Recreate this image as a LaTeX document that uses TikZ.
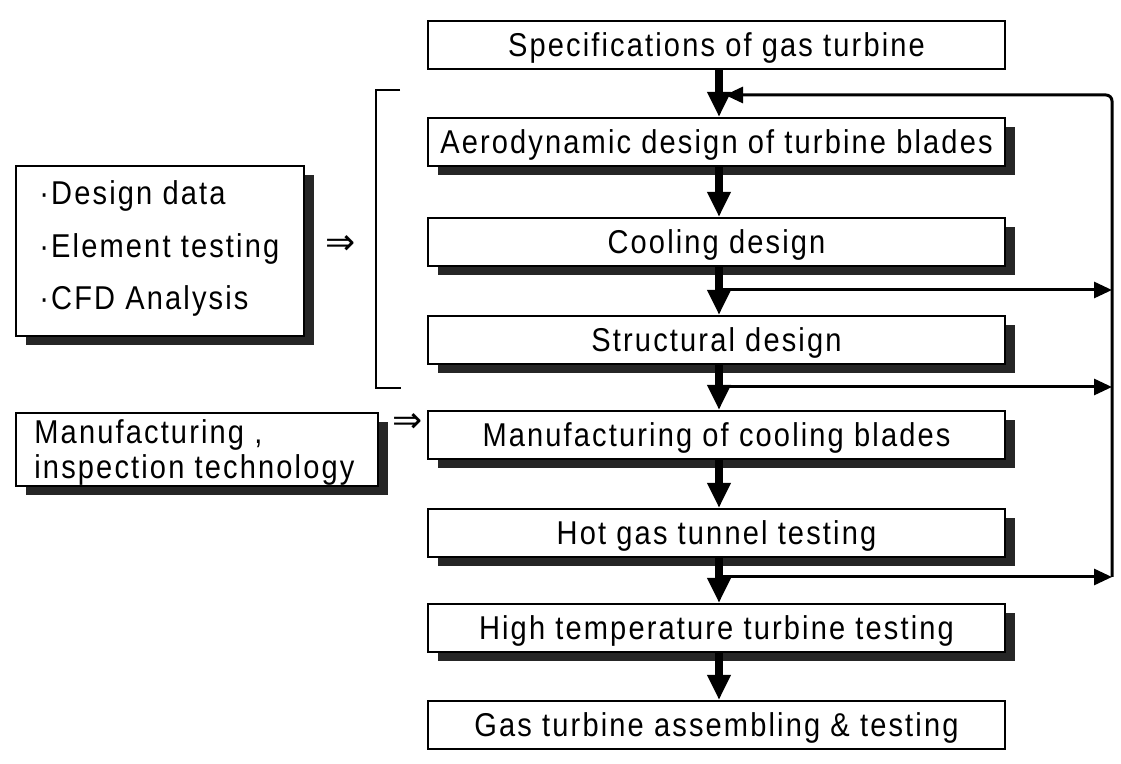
\documentclass[tikz,border=0pt]{standalone}
\usepackage{fontspec}
\setmainfont[FakeStretch=0.88,LetterSpace=6.5]{Liberation Sans}
\newfontfamily\arrowfont{DejaVu Sans}
\usetikzlibrary{arrows.meta,shadows}

\begin{document}
\begin{tikzpicture}[x=0.5pt,y=-0.5pt,
  box/.style={draw=black, line width=1pt, fill=white, inner sep=0pt, anchor=north west},
  stage/.style={box, minimum width=288.5pt, minimum height=24pt,
    font=\fontsize{16.5}{18}\selectfont, text height=11.8pt, text depth=0pt},
  shade/.style={drop shadow={shadow xshift=5pt, shadow yshift=-4.5pt, opacity=1, fill=black!85}},
  lbl/.style={anchor=base west, inner sep=0pt, font=\fontsize{16.5}{18}\selectfont},
  imp/.style={inner sep=0pt, font=\arrowfont\fontsize{18}{20}\selectfont},
  flow/.style={line width=4pt, -{Triangle[width=11pt,length=12.5pt]}},
  loop/.style={line width=1.5pt, -{Triangle[width=8pt,length=9pt]}},
]
\useasboundingbox (0,0) rectangle (1121,764);

% main design sequence
\node[stage]        (spec)  at (427,20)  {Specifications of gas turbine};
\node[stage,shade]  (aero)  at (427,117) {Aerodynamic design of turbine blades};
\node[stage,shade]  (cool)  at (427,217) {Cooling design};
\node[stage,shade]  (struc) at (427,315) {Structural design};
\node[stage,shade]  (manu)  at (427,410) {Manufacturing of cooling blades};
\node[stage,shade]  (hot)   at (427,508) {Hot gas tunnel testing};
\node[stage,shade]  (high)  at (427,603) {High temperature turbine testing};
\node[stage]        (asm)   at (427,700) {Gas turbine assembling \& testing};

% left-hand inputs
\node[box,shade,minimum width=144pt,minimum height=85pt] (inputs) at (15,165) {};
\node[lbl] (in1) at (39,205) {·Design data};
\node[lbl] (in2) at (39,258) {·Element testing};
\node[lbl] (in3) at (39,310) {·CFD Analysis};

\node[box,shade,minimum width=181pt,minimum height=36.5pt] (tech) at (15,412) {};
\node[lbl] (tc1) at (34,444) {Manufacturing ,};
\node[lbl] (tc2) at (34,479) {inspection technology};

\node[imp] (imp1) at (341,245) {⇒};
\node[imp] (imp2) at (408,423) {⇒};

% bracket grouping the design stages
\coordinate (bt) at (400,90);
\coordinate (bb) at (401,388);
\draw[line width=0.8pt] (bt) -- (376,90) -- (376,388) -- (bb);

% vertical flow arrows
\coordinate (col) at (719,0);
\foreach \a/\b in {spec/aero,aero/cool,cool/struc,struc/manu,manu/hot,hot/high,high/asm}
  \draw[flow] (\a.south -| col) -- (\b.north -| col);

% feedback loop
\coordinate (rt) at (1112,95);
\coordinate (rb) at (1112,577);
\coordinate (j0) at (725,95);
\coordinate (j1) at (719,290);
\coordinate (j2) at (719,387);
\coordinate (j3) at (719,577);
\draw[loop, rounded corners=3pt] (rb) -- (rt) -- (j0);
\draw[loop] (j1) -- (j1 -| rt);
\draw[loop] (j2) -- (j2 -| rt);
\draw[loop] (j3) -- (rb);
\end{tikzpicture}
\end{document}
